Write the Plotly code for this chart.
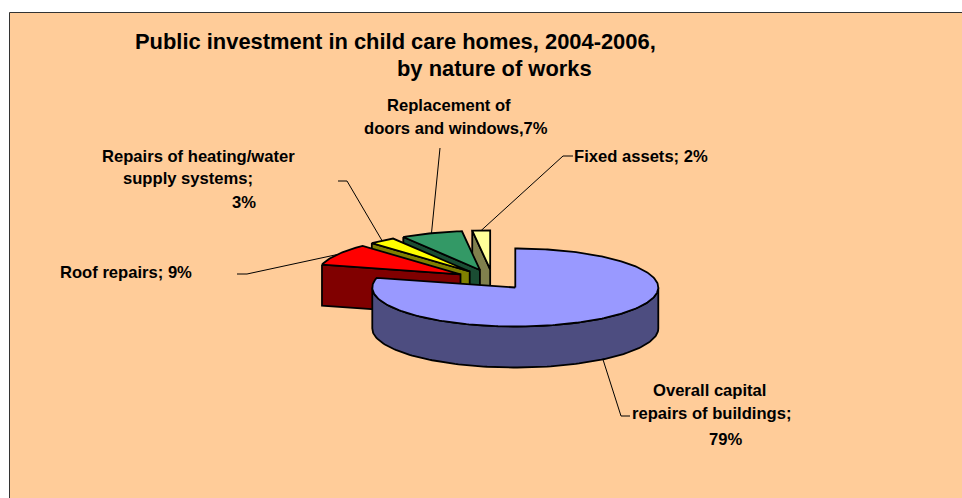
import numpy as np
import plotly.graph_objects as go

# Chart values, clockwise from 12 o'clock
categories = ["Overall capital repairs of buildings", "Roof repairs",
              "Repairs of heating/water supply systems",
              "Replacement of doors and windows", "Fixed assets"]
values = [79, 9, 3, 7, 2]
top_colors = ["#9999FF", "#FF0000", "#FFFF00", "#339966", "#FFFF99"]
side_colors = ["#4D4D80", "#800000", "#808000", "#1A4D33", "#80804D"]

title_lines = [("Public investment in child care homes, 2004-2006,", 133, 41),
               ("by nature of works", 395, 68)]
# text, centre x, centre y
label_lines = [("Replacement of", 449, 105), ("doors and windows,7%", 455.5, 128),
               ("Fixed assets; 2%", 641, 156),
               ("Repairs of heating/water", 198, 156), ("supply systems;", 188, 178), ("3%", 244, 202),
               ("Roof repairs; 9%", 126, 272),
               ("Overall capital", 709, 390), ("repairs of buildings;", 711.5, 413), ("79%", 725, 439)]
# leader ends away from the slice: elbow and end, per category
leader_ends = [[(621, 416), (630, 416)], [(247, 274), (237, 274)], [(347, 181), (338, 181)],
               [(440, 148)], [(563, 156), (573, 156)]]

# Pie projection in pixels
CX, CY = 492.5, 279.5
RX, RY = 143, 39
DEPTH = 41
EXPLODE = 0.26


def project(theta, offset=(0, 0), drop=0):
    # theta in degrees, clockwise from 12 o'clock
    t = np.radians(theta)
    return offset[0] + RX * np.sin(t), offset[1] - RY * np.cos(t) + drop


def add_poly(fig, xs, ys, color, name):
    fig.add_trace(go.Scatter(x=xs, y=ys, mode="lines", fill="toself", fillcolor=color,
                             line=dict(color="black", width=1.8), name=name,
                             hoverinfo="name", showlegend=False))


# Slice angles and apex positions from the values
edges = np.cumsum([0] + values) / sum(values) * 360
slices = []
for i, cat in enumerate(categories):
    a0, a1 = edges[i], edges[i + 1]
    mid = (a0 + a1) / 2
    apex = project(mid, (CX, CY))
    apex = (CX + (apex[0] - CX) * EXPLODE, CY + (apex[1] - CY) * EXPLODE)
    slices.append(dict(name=cat, a0=a0, a1=a1, mid=mid, apex=apex,
                       top=top_colors[i], side=side_colors[i]))

fig = go.Figure()

# Painted back to front: small slices from the top round to the left, then the large one
for s in slices[:0:-1] + slices[:1]:
    ax, ay = s["apex"]
    if s is not slices[0]:
        # radial cut face below the slice start
        ox, oy = project(s["a0"], s["apex"])
        add_poly(fig, [ox, ax, ax, ox, ox], [oy, ay, ay + DEPTH, oy + DEPTH, oy], s["side"], s["name"])
    else:
        # outer wall, front half of the ellipse
        th = np.linspace(90, 270, 120)
        wx, wy = project(th, s["apex"])
        add_poly(fig, list(wx) + list(wx[::-1]) + [wx[0]],
                 list(wy) + list(wy[::-1] + DEPTH) + [wy[0]], s["side"], s["name"])
    th = np.linspace(s["a0"], s["a1"], max(8, int(s["a1"] - s["a0"])))
    px, py = project(th, s["apex"])
    add_poly(fig, [ax] + list(px) + [ax], [ay] + list(py) + [ay], s["top"], s["name"])

# Leader lines
for s, ends in zip(slices, leader_ends):
    sx, sy = project(s["mid"], s["apex"], DEPTH if s is slices[0] else 0)
    xs = [sx] + [p[0] for p in ends]
    ys = [sy] + [p[1] for p in ends]
    fig.add_trace(go.Scatter(x=xs, y=ys, mode="lines", line=dict(color="black", width=1),
                             hoverinfo="skip", showlegend=False))

annotations = []
for text, x, y in title_lines:
    annotations.append(dict(x=x, y=y, text="<b>" + text + "</b>", xanchor="left", yanchor="middle",
                            showarrow=False, font=dict(family="Liberation Sans", size=21.9, color="black")))
for text, x, y in label_lines:
    annotations.append(dict(x=x, y=y, text="<b>" + text + "</b>", xanchor="center", yanchor="middle",
                            showarrow=False, font=dict(family="Liberation Sans", size=16.6, color="black")))

fig.update_layout(
    width=962, height=498,
    margin=dict(l=0, r=0, t=0, b=0),
    paper_bgcolor="white",
    plot_bgcolor="white",
    xaxis=dict(range=[0, 962], visible=False, fixedrange=True),
    yaxis=dict(range=[498, 0], visible=False, fixedrange=True),
    annotations=annotations,
    shapes=[dict(type="rect", layer="below", x0=9.5, y0=12.5, x1=975, y1=510,
                 fillcolor="#FFCC99", line=dict(color="#333333", width=1))],
)

fig.write_html("out.html", config={"displayModeBar": False},
               post_script="document.body.style.margin='0';document.body.style.overflow='hidden';")
